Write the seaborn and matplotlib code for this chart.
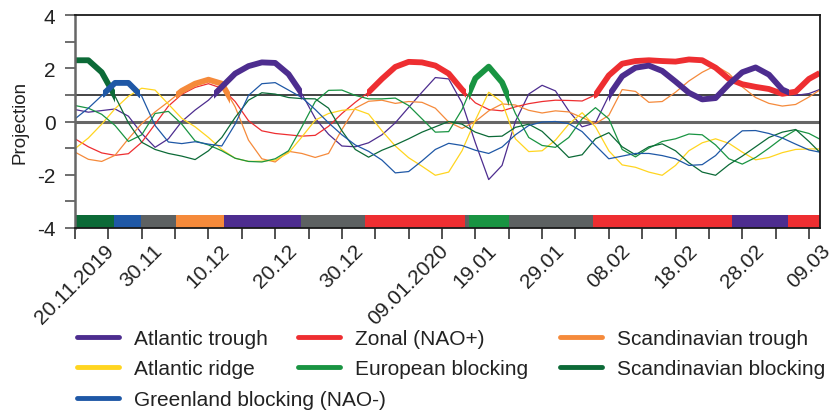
import numpy as np
import pandas as pd
import matplotlib
matplotlib.use("Agg")
import matplotlib.pyplot as plt
from matplotlib.patches import Rectangle
from matplotlib.lines import Line2D
import seaborn as sns

# ---------------- data ----------------
# days since 20.11.2019
days = list(range(0, 112, 2)) + [111.6]

atlantic_trough = [0.45, 0.35, 0.41, 0.47, 0.2, -0.45, -0.97, -0.65, 0.0, 0.43,
                   0.8, 1.3, 1.8, 2.08, 2.22, 2.2, 1.78, 1.04, 0.12, -0.48,
                   -0.92, -0.95, -0.8, -0.5, -0.05, 0.53, 1.1, 1.65, 1.6, 0.7,
                   -0.8, -2.18, -1.65, 0.0, 1.03, 1.36, 1.15, 0.4, -0.2, -0.05,
                   0.97, 1.7, 2.02, 2.1, 1.9, 1.5, 1.08, 0.83, 0.88, 1.4,
                   1.85, 2.03, 1.76, 1.2, 0.98, 1.05, 1.2]
zonal = [-0.65, -0.95, -1.18, -1.27, -1.21, -0.78, -0.1, 0.58, 1.02, 1.28,
         1.42, 1.25, 0.75, 0.03, -0.35, -0.45, -0.5, -0.55, -0.52, -0.18,
         0.3, 0.72, 1.1, 1.6, 2.05, 2.24, 2.22, 2.1, 1.8, 1.2,
         0.7, 0.45, 0.4, 0.55, 0.67, 0.75, 0.8, 0.79, 0.77, 1.0,
         1.73, 2.17, 2.27, 2.3, 2.27, 2.25, 2.33, 2.3, 2.02, 1.6,
         1.4, 1.3, 1.22, 1.04, 1.12, 1.6, 1.82]
scandinavian_trough = [-1.15, -1.42, -1.5, -1.27, -0.65, -0.08, 0.36, 0.74, 1.15, 1.42,
                       1.57, 1.42, 0.55, -0.7, -1.4, -1.52, -1.12, -1.2, -1.35, -1.2,
                       -0.3, 0.5, 0.76, 0.8, 0.68, 0.75, 0.72, 0.5, -0.02, -0.26,
                       0.0, 0.4, 0.66, 0.62, 0.42, 0.32, 0.4, 0.36, 0.15, -0.08,
                       0.23, 1.2, 1.13, 0.72, 0.75, 1.1, 1.52, 1.85, 2.1, 1.8,
                       1.3, 0.9, 0.68, 0.58, 0.64, 0.92, 1.18]
atlantic_ridge = [-1.02, -0.62, -0.1, 0.48, 0.95, 1.25, 1.18, 0.65, 0.12, -0.2,
                  -0.6, -1.05, -1.38, -1.5, -1.49, -1.45, -1.18, -0.58, 0.05, 0.3,
                  0.42, 0.46, 0.28, -0.35, -0.92, -1.36, -1.68, -2.02, -1.9, -1.1,
                  0.05, 1.1, 0.72, -0.65, -1.13, -1.1, -0.7, -0.1, 0.33, -0.2,
                  -1.1, -1.63, -1.72, -1.9, -2.02, -1.65, -1.1, -0.8, -0.65, -0.82,
                  -1.15, -1.44, -1.35, -1.17, -1.05, -1.03, -1.03]
european_blocking = [0.6, 0.5, 0.27, -0.15, -0.75, -0.5, 0.3, 0.38, -0.1, -0.73,
                     -0.88, -1.1, -1.38, -1.5, -1.52, -1.4, -1.1, -0.2, 0.75, 1.17,
                     1.18, 0.98, 0.85, 0.85, 0.88, 0.6, 0.1, -0.4, -0.38, 0.45,
                     1.62, 2.06, 1.47, 0.3, -0.6, -0.9, -0.97, -0.6, 0.1, 0.52,
                     0.1, -1.05, -1.33, -1.0, -0.75, -0.65, -0.47, -0.5, -0.88, -1.4,
                     -1.6, -1.35, -1.0, -0.62, -0.32, -0.45, -0.66]
scandinavian_blocking = [2.3, 2.3, 1.85, 0.95, -0.05, -0.78, -1.05, -1.2, -1.3, -1.43,
                         -1.1, -0.6, 0.15, 0.8, 1.08, 1.03, 0.9, 0.86, 0.85, 0.5,
                         -0.35, -1.05, -1.34, -1.08, -0.88, -0.65, -0.4, -0.2, 0.0, -0.1,
                         -0.4, -0.57, -0.55, -0.22, -0.1, -0.37, -0.85, -1.35, -1.25, -0.65,
                         -0.42, -0.95, -1.25, -0.95, -0.84, -1.1, -1.55, -1.9, -2.02, -1.62,
                         -1.3, -0.95, -0.6, -0.4, -0.3, -0.75, -1.15]
greenland_blocking = [0.1, 0.5, 0.97, 1.45, 1.45, 0.95, -0.15, -0.77, -0.83, -0.76,
                      -0.85, -0.92, -0.1, 0.98, 1.42, 1.46, 1.18, 0.9, 0.45, -0.05,
                      -0.5, -0.88, -1.12, -1.45, -1.93, -1.88, -1.48, -1.05, -0.82, -0.9,
                      -1.08, -1.2, -0.96, -0.5, -0.15, -0.02, 0.0, -0.08, -0.38, -0.9,
                      -1.4, -1.3, -1.2, -1.2, -1.28, -1.4, -1.65, -1.62, -1.28, -0.75,
                      -0.35, -0.34, -0.45, -0.62, -0.85, -1.07, -1.15]

regime_names = ["Atlantic trough", "Zonal (NAO+)", "Scandinavian trough",
                "Atlantic ridge", "European blocking", "Scandinavian blocking",
                "Greenland blocking (NAO-)"]
regime_values = [atlantic_trough, zonal, scandinavian_trough, atlantic_ridge,
                 european_blocking, scandinavian_blocking, greenland_blocking]
regime_colors = ["#4d2d8f", "#ee2e31", "#f58a3b", "#ffd520", "#199442",
                 "#0c6a37", "#1f58a6"]
no_regime_color = "#5d6162"

# active-regime periods (thick line sections): regime index, start day, end day
thick_regime = [5, 6, 2, 0, 1, 4, 1, 0]
thick_start = [0.0, 4.25, 15.2, 20.9, 43.7, 59.0, 77.8, 80.0]
thick_end = [6.0, 9.8, 23.2, 34.0, 58.6, 65.0, 111.65, 107.0]

# regime sequence bar (-1 = no regime)
bar_regime = [5, 6, -1, 2, 0, -1, 1, -1, 4, -1, 1, 0, 1]
bar_start = [0.0, 5.85, 9.9, 15.15, 22.35, 33.9, 43.5, 58.5, 59.1, 65.1, 77.7, 98.4, 106.9]
bar_end = [5.85, 9.9, 15.15, 22.35, 33.9, 43.5, 58.5, 59.1, 65.1, 77.7, 98.4, 106.9, 111.65]

tick_days = [0, 10, 20, 30, 40, 50, 60, 70, 80, 90, 100, 110]
tick_labels = ["20.11.2019", "30.11", "10.12", "20.12", "30.12", "09.01.2020",
               "19.01", "29.01", "08.02", "18.02", "28.02", "09.03"]

# ---------------- figure ----------------
sns.set_theme(style="white")
plt.rcParams["font.family"] = ["Liberation Sans", "DejaVu Sans"]
plt.rcParams["axes.unicode_minus"] = False

W, H = 835, 414
fig = plt.figure(figsize=(W / 100, H / 100), dpi=100)
ax = fig.add_axes([75 / W, 1 - 229 / H, (820 - 75) / W, (229 - 16) / H])

df = pd.concat([pd.DataFrame({"day": days, "value": v, "regime": n})
                for n, v in zip(regime_names, regime_values)], ignore_index=True)
palette = dict(zip(regime_names, regime_colors))

ax.axhline(0, color="#666666", lw=2.2, zorder=1)
ax.axhline(1, color="#111111", lw=1.1, zorder=1)

sns.lineplot(data=df, x="day", y="value", hue="regime", palette=palette,
             estimator=None, lw=0.9, legend=False, ax=ax, zorder=2)

for r, s, e in zip(thick_regime, thick_start, thick_end):
    name = regime_names[r]
    sub = df[(df.regime == name) & (df.day >= s - 2.01) & (df.day <= e + 2.01)]
    n_before = len(ax.lines)
    sns.lineplot(data=sub, x="day", y="value", color=regime_colors[r],
                 estimator=None, lw=4.2, legend=False, ax=ax, zorder=3)
    for ln in ax.lines[n_before:]:
        ln.set_solid_capstyle("butt")
        ln.set_solid_joinstyle("round")
        ln.set_clip_path(Rectangle((s, -10), e - s, 20, transform=ax.transData))

bar_cols = [no_regime_color if r < 0 else regime_colors[r] for r in bar_regime]
for s, e, c in zip(bar_start, bar_end, bar_cols):
    ax.broken_barh([(s, e - s)], (-4, 0.48), facecolors=c, edgecolor="none", zorder=2)

ax.set_xlim(0, 111.65)
ax.set_ylim(-4, 4)
ax.set_xticks(tick_days)
ax.set_xticklabels(tick_labels, rotation=45, ha="center")
ax.set_xticks(np.arange(5, 111, 10), minor=True)
ax.set_yticks([-4, -2, 0, 2, 4])
ax.set_yticklabels(["-4", "-2", "0", "2", "4"])
ax.set_yticks([-3, -1, 1, 3], minor=True)
ax.set_xlabel("")
ax.set_ylabel("Projection", fontsize=13.5, color="#222222")
ax.yaxis.set_label_coords(-0.062, 0.5)

ax.tick_params(axis="x", which="both", direction="out", length=8, width=1.2,
               color="#333333", bottom=True, labelsize=15, labelcolor="#222222", pad=1)
ax.tick_params(axis="y", which="both", direction="out", length=7, width=1.2,
               color="#555555", left=True, labelsize=15, labelcolor="#222222", pad=7)

for side in ["top", "right", "bottom"]:
    ax.spines[side].set_color("#1a1a1a")
    ax.spines[side].set_linewidth(1.3)
ax.spines["left"].set_color("#666666")
ax.spines["left"].set_linewidth(1.8)
for sp in ax.spines.values():
    sp.set_zorder(5)

# legend: three columns placed like the reference
fs = 15
fs_px = fs * 100 / 72
columns = [[0, 3, 6], [1, 4], [2, 5]]
col_x = [77, 298, 560]
for cols, x in zip(columns, col_x):
    handles = [Line2D([0], [0], color=regime_colors[i], lw=3.5) for i in cols]
    labels = [regime_names[i] for i in cols]
    fig.legend(handles, labels, loc="upper left", bbox_to_anchor=(x / W, 1 - 330 / H),
               frameon=False, fontsize=fs, borderpad=0, borderaxespad=0,
               handlelength=42 / fs_px, handletextpad=15 / fs_px, labelspacing=0.55,
               labelcolor="#222222")

fig.savefig("out.png", dpi=100)
